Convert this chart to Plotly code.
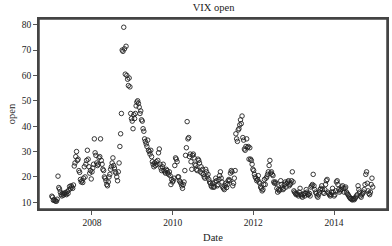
import pandas as pd
import plotly.graph_objects as go

open_2007 = [12.4, 12.0, 10.8, 11.0, 10.6, 10.5, 10.4, 11.2, 20.3, 15.8,
             15.2, 14.0, 13.0, 12.5, 13.5, 12.8, 13.6, 13.2, 13.8, 13.0,
             14.2, 13.5, 14.8, 16.2, 15.4, 16.5, 16.0, 15.5, 16.8, 24.3,
             25.5, 28.0, 30.0, 26.5, 27.0, 22.5, 21.8, 19.0, 18.0, 18.5,
             17.8, 19.5, 24.0, 20.0, 25.0, 26.5, 30.5, 27.0, 24.0, 21.5,
             22.5, 19.2]
open_2008 = [22.0, 23.5, 25.0, 35.0, 29.5, 28.5, 25.5, 24.5, 25.0, 27.5,
             28.0, 35.0, 26.5, 25.0, 23.0, 22.5, 20.0, 19.5, 18.5, 17.0,
             16.5, 18.0, 20.0, 21.0, 23.0, 24.0, 25.5, 27.5, 24.5, 23.5,
             22.0, 21.5, 20.0, 18.5, 22.0, 25.5, 32.0, 37.0, 45.0, 70.0,
             69.5, 79.0, 70.5, 60.5, 71.5, 60.0, 58.5, 56.0, 59.0, 55.5,
             45.0, 43.0]
open_2009 = [42.0, 39.0, 44.5, 43.0, 45.0, 48.0, 49.5, 50.0, 49.0, 47.5,
             45.0, 46.0, 42.5, 42.0, 39.0, 38.0, 35.0, 34.0, 33.0, 32.0,
             34.5, 30.5, 30.0, 29.0, 30.5, 28.0, 26.0, 25.0, 24.0, 25.5,
             24.5, 26.0, 25.0, 26.5, 29.5, 31.0, 25.0, 23.5, 22.5, 24.0,
             25.0, 22.5, 22.0, 21.5, 23.0, 22.5, 21.5, 21.0, 22.0, 20.5,
             17.0, 19.0]
open_2010 = [18.0, 18.5, 19.5, 24.5, 27.5, 27.0, 26.0, 20.0, 20.0, 18.5,
             18.0, 17.5, 16.5, 15.5, 17.0, 18.0, 22.5, 28.5, 31.5, 41.8,
             35.0, 35.5, 28.0, 29.0, 26.0, 23.0, 28.5, 29.0, 27.5, 25.0,
             24.5, 23.0, 22.5, 27.0, 26.5, 25.5, 22.0, 24.0, 21.5, 23.0,
             21.0, 20.0, 19.5, 23.0, 22.0, 20.0, 21.0, 19.0, 18.0, 17.5,
             16.5, 16.0]
open_2011 = [17.5, 16.0, 16.0, 18.0, 19.5, 18.5, 16.5, 17.0, 19.0, 20.5,
             22.0, 19.5, 18.0, 16.0, 15.5, 15.0, 16.5, 17.5, 15.8, 17.0,
             18.5, 19.0, 18.5, 21.5, 22.5, 22.0, 16.5, 17.5, 19.5, 22.5,
             37.0, 35.0, 34.0, 38.5, 39.0, 40.5, 42.5, 41.0, 44.0, 35.5,
             34.5, 31.0, 30.5, 32.0, 35.0, 31.5, 32.0, 27.0, 31.5, 27.0,
             26.5, 25.0]
open_2012 = [23.0, 22.5, 21.0, 20.0, 19.5, 18.5, 19.0, 20.5, 18.0, 17.5,
             16.0, 15.5, 14.5, 15.0, 17.0, 19.0, 17.0, 19.5, 20.0, 21.0,
             22.0, 24.5, 26.5, 21.5, 22.0, 21.0, 20.5, 18.0, 17.5, 18.0,
             17.5, 15.5, 14.0, 15.0, 14.5, 15.0, 18.5, 17.0, 16.0, 15.0,
             15.5, 17.0, 18.0, 16.0, 17.5, 18.0, 18.5, 16.5, 17.0, 17.5,
             18.5, 22.0]
open_2013 = [18.0, 14.5, 14.0, 13.5, 13.0, 13.5, 13.0, 12.5, 14.0, 15.5,
             13.0, 12.5, 12.0, 13.0, 13.5, 12.5, 13.5, 15.0, 14.0, 13.0,
             13.0, 13.5, 12.5, 16.0, 16.5, 17.0, 21.0, 16.5, 15.0, 14.0,
             13.5, 12.5, 12.0, 13.0, 14.0, 15.0, 15.5, 16.5, 15.0, 14.0,
             13.5, 15.0, 17.0, 18.5, 19.0, 14.0, 13.5, 13.0, 12.5, 13.0,
             14.0, 15.5]
open_2014 = [14.0, 12.5, 13.0, 14.5, 18.0, 18.5, 17.0, 15.0, 14.0, 14.5,
             15.0, 16.0, 16.5, 15.5, 14.0, 15.5, 16.0, 14.0, 13.5, 13.0,
             12.5, 12.0, 11.5, 11.5, 11.0, 11.0, 11.5, 11.0, 11.5, 12.0,
             12.5, 13.0, 16.5, 15.0, 14.0, 12.5, 12.0, 13.0, 13.5, 14.0,
             15.0, 17.0, 21.0, 22.0, 17.5, 14.5, 13.5, 13.0, 14.0, 17.0,
             19.5, 16.0]

open_values = (open_2007 + open_2008 + open_2009 + open_2010 +
               open_2011 + open_2012 + open_2013 + open_2014)
dates = pd.date_range("2007-01-03", periods=len(open_values), freq="7D")

x_tick_vals = ["2008-01-01", "2010-01-01", "2012-01-01", "2014-01-01"]
x_tick_text = ["2008", "2010", "2012", "2014"]
y_tick_vals = [10, 20, 30, 40, 50, 60, 70, 80]

FONT = "Liberation Serif, Times New Roman, serif"

fig = go.Figure(go.Scatter(
    x=dates, y=open_values, mode="markers",
    marker=dict(symbol="circle-open", size=4.5, color="#222",
                line=dict(width=0.9, color="#222")),
    hoverinfo="x+y",
))

fig.update_layout(
    width=392, height=246,
    margin=dict(l=39, r=5, t=19, b=37, autoexpand=False),
    paper_bgcolor="white", plot_bgcolor="white",
    font=dict(family=FONT, size=10, color="#222"),
    showlegend=False,
    title=dict(text="VIX open", x=0.545, xanchor="center",
               y=0.972, yanchor="middle", font=dict(size=10.5)),
    shapes=[dict(type="rect", xref="paper", yref="paper",
                 x0=0, x1=1, y0=0, y1=1,
                 line=dict(color="#444", width=1.5), layer="above")],
)
fig.update_xaxes(
    range=["2006-09-09", "2015-04-25"],
    tickvals=x_tick_vals, ticktext=x_tick_text,
    ticks="outside", ticklen=4, tickcolor="#555", tickwidth=1,
    showline=True, mirror=True, linecolor="#444", linewidth=1.5,
    showgrid=False, zeroline=False,
    title=dict(text="Date", standoff=6, font=dict(size=10.5)),
    tickfont=dict(size=9.5),
)
fig.update_yaxes(
    range=[7.35, 82.25],
    tickvals=y_tick_vals,
    ticks="outside", ticklen=4, tickcolor="#555", tickwidth=1,
    showline=True, mirror=True, linecolor="#444", linewidth=1.5,
    showgrid=False, zeroline=False,
    title=dict(text="open", standoff=4, font=dict(size=10.5)),
    tickfont=dict(size=9.5),
)

fig.write_html(
    "out.html",
    config={"displayModeBar": False},
    post_script="document.body.style.margin='0';document.body.style.overflow='hidden';",
)
